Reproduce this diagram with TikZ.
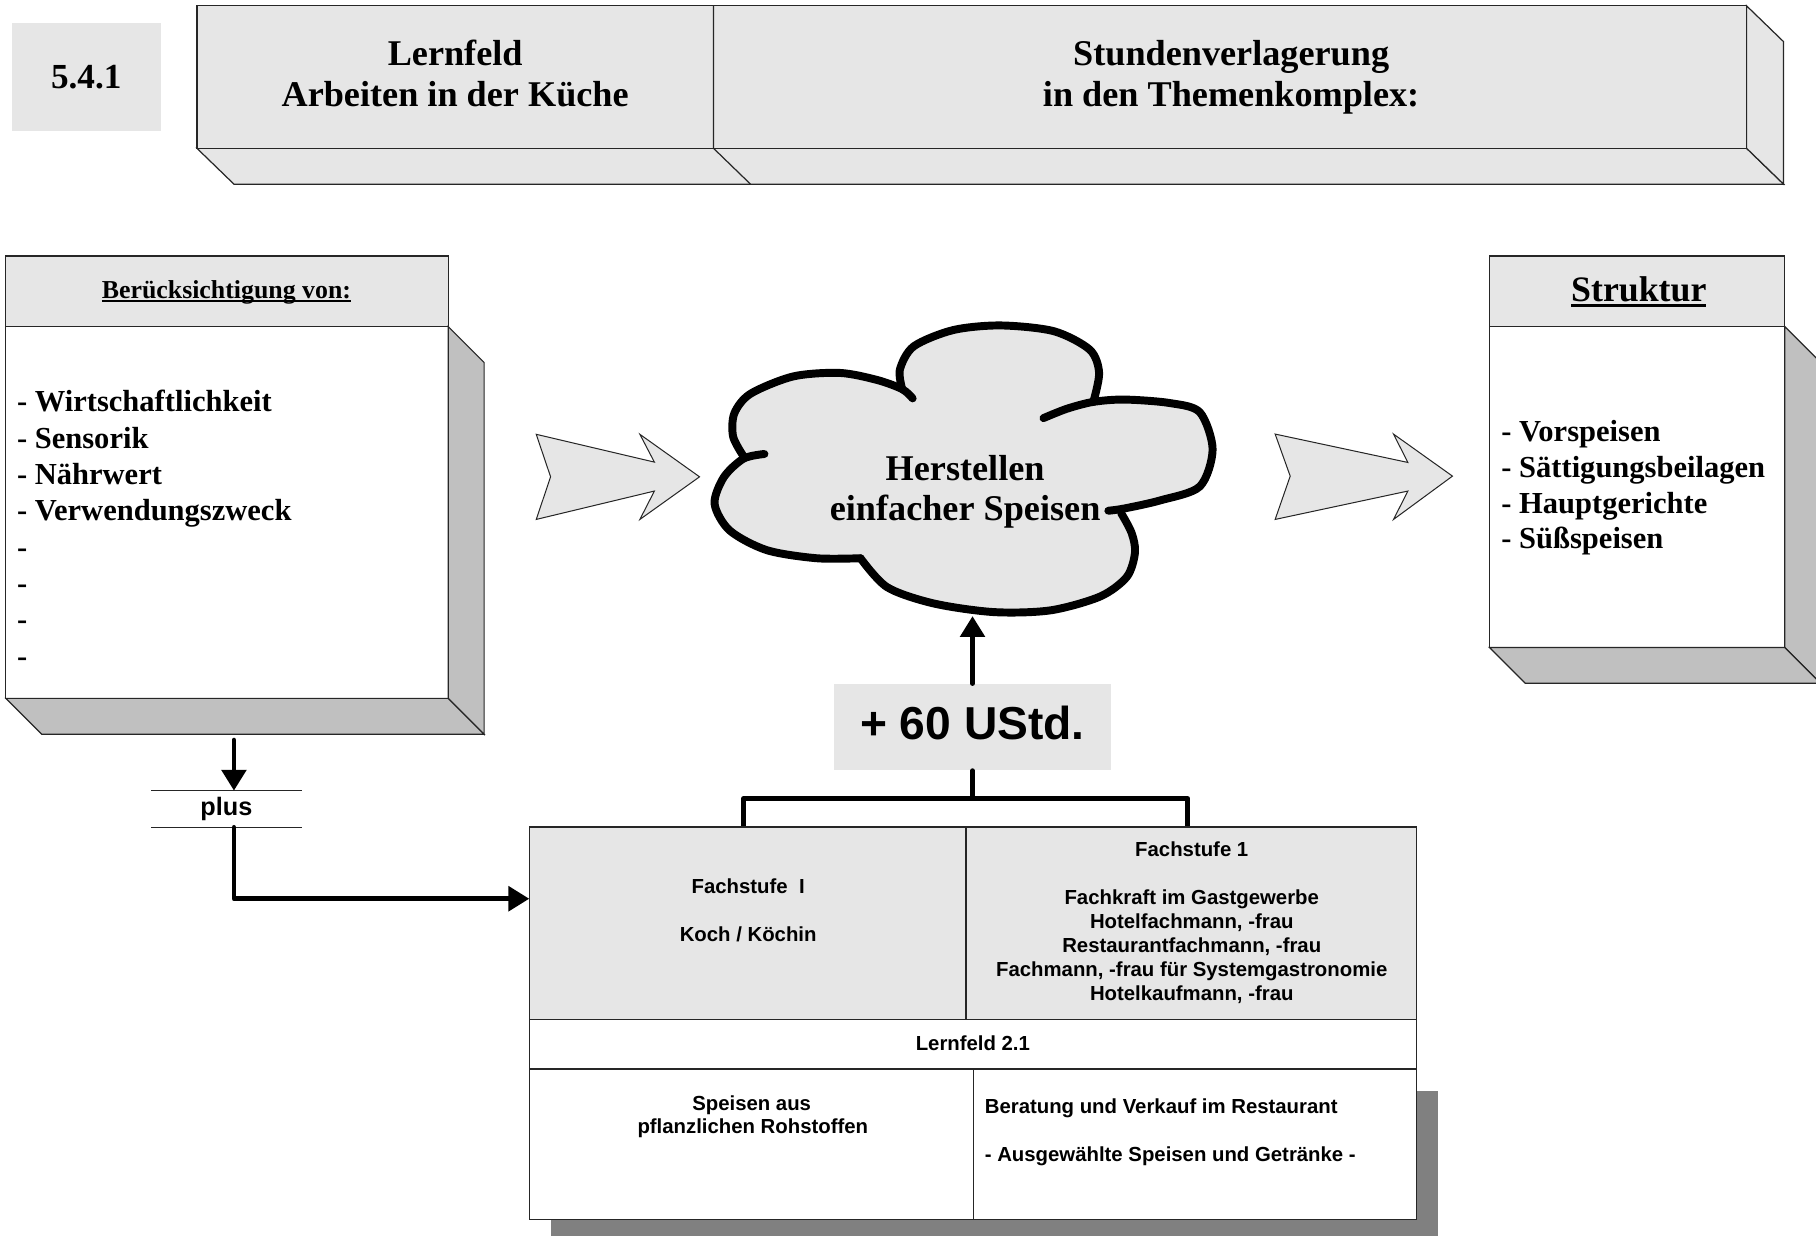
\documentclass[tikz,border=0pt]{standalone}
\usepackage{fontspec}
\setmainfont{Liberation Serif}
\setsansfont{Liberation Sans}
\usetikzlibrary{arrows.meta,positioning}

\definecolor{boxgray}{HTML}{E6E6E6}
\definecolor{sidegray}{HTML}{C0C0C0}
\definecolor{shadowgray}{HTML}{808080}

\newcommand{\unterstr}[1]{\sbox0{#1}\rlap{\rule[-0.14em]{\wd0}{0.07em}}\usebox0}

\tikzset{
  kante/.style={draw=black!85, line width=0.6pt},
  flach/.style={kante, fill=boxgray},
  seite/.style={kante, fill=sidegray},
  gross/.style={font=\bfseries\fontsize{17.8}{20}\selectfont, anchor=base},
  liste/.style={font=\bfseries\fontsize{15}{18}\selectfont, anchor=base west},
  zelle/.style={font=\sffamily\bfseries\fontsize{10}{12}\selectfont, anchor=base},
  verb/.style={line width=2.3pt, line cap=round, line join=round},
  pfeil/.style={-{Triangle[length=0.36cm,width=0.42cm]}},
  wolkenrand/.style={line width=3.9pt, line cap=round, line join=round},
  blockpfeil/.style={draw=black!85, line width=0.5pt, fill=boxgray}
}

\begin{document}
\begin{tikzpicture}[x=0.02cm, y=-0.02cm]
\tikzstyle{every node}+=[inner sep=0pt]
\useasboundingbox (0,0) rectangle (1568,1067);
\clip (0,0) rectangle (1568,1067);

% Kopfzeile
\node[fill=boxgray, minimum width=2.58cm, minimum height=1.86cm, font=\bfseries\fontsize{17.3}{20}\selectfont] (nr) at (74.5,66.2) {5.4.1};
\draw[flach] (170,128) -- (202,159) -- (1540,159) -- (1508,128) -- cycle;
\draw[flach] (1508,5) -- (1540,36) -- (1540,159) -- (1508,128) -- cycle;
\draw[flach] (170,5) rectangle (1508,128);
\draw[kante] (616,5) -- (616,128) -- (648,159);
\node[gross] (lf1) at (393,56.5) {Lernfeld};
\node[gross] (lf2) at (393,92) {Arbeiten in der Küche};
\node[gross] (sv1) at (1063,56.5) {Stundenverlagerung};
\node[gross] (sv2) at (1063,92) {in den Themenkomplex:};

% linker Kasten
\draw[flach] (5,221) rectangle (387,282);
\draw[kante, fill=white] (5,282) rectangle (387,603);
\draw[seite] (387,282) -- (418,313) -- (418,634) -- (387,603) -- cycle;
\draw[seite] (5,603) -- (36,634) -- (418,634) -- (387,603) -- cycle;
\node[gross, font=\bfseries\fontsize{12.7}{15}\selectfont] (ws-kopf) at (195.5,257.6) {\unterstr{Berücksichtigung von:}};
\node[liste] (ws1) at (14.4,355.5) {- Wirtschaftlichkeit};
\node[liste] (ws2) at (14.4,386.9) {- Sensorik};
\node[liste] (ws3) at (14.4,418.3) {- Nährwert};
\node[liste] (ws4) at (14.4,449.7) {- Verwendungszweck};
\node[liste] (ws5) at (14.4,481.1) {-};
\node[liste] (ws6) at (14.4,512.5) {-};
\node[liste] (ws7) at (14.4,543.9) {-};
\node[liste] (ws8) at (14.4,575.3) {-};
\coordinate (ws-unten) at (202,639);

% rechter Kasten
\draw[flach] (1286,221) rectangle (1541,282);
\draw[kante, fill=white] (1286,282) rectangle (1541,559);
\draw[seite] (1541,282) -- (1572,313) -- (1572,590) -- (1541,559) -- cycle;
\draw[seite] (1286,559) -- (1317,590) -- (1572,590) -- (1541,559) -- cycle;
\node[gross, font=\bfseries\fontsize{17.6}{20}\selectfont] (st-kopf) at (1415,260.5) {\unterstr{Struktur}};
\node[liste] (st1) at (1296,381.4) {- Vorspeisen};
\node[liste] (st2) at (1296,412.2) {- Sättigungsbeilagen};
\node[liste] (st3) at (1296,443) {- Hauptgerichte};
\node[liste] (st4) at (1296,473.8) {- Süßspeisen};

% Blockpfeile
\draw[blockpfeil] (463,375) -- (565,399) -- (552.5,375) -- (604,411.7) -- (552.5,448.5) -- (565,424) -- (463,448.5) -- (475.4,411.7) -- cycle;
\draw[blockpfeil] (1101,374.8) -- (1215.6,399.3) -- (1203.2,374.8) -- (1254.1,411.1) -- (1203.2,448.5) -- (1215.6,424) -- (1101,448.5) -- (1114,411.1) -- cycle;

% Wolke
\fill[boxgray] plot[smooth] coordinates {(642,394) (633,377) (634,357) (648,340) (685,325) (725,322) (757,328) (779,336)}
  -- plot[smooth] coordinates {(779,336) (777,319) (789,299) (823,285) (864,281) (910,286) (941,302) (949,322) (944,347)}
  -- plot[smooth] coordinates {(944,347) (971,345) (1010,348) (1036,356) (1047,388) (1036,420) (1002,432) (968,443)}
  -- plot[smooth] coordinates {(968,443) (977,460) (980,477) (973,498) (950,515) (907,527) (858,528.5) (806,521) (766,507) (743,482)}
  -- plot[smooth] coordinates {(743,482) (705,482) (662,475) (630,458) (617,435) (625,412) (642,394)} -- cycle;
\draw[wolkenrand] plot[smooth] coordinates {(642,394) (633,377) (634,357) (648,340) (685,325) (725,322) (757,328) (779,336) (788,344)};
\draw[wolkenrand] plot[smooth] coordinates {(779,336) (777,319) (789,299) (823,285) (864,281) (910,286) (941,302) (949,322) (944,347)};
\draw[wolkenrand] plot[smooth] coordinates {(901,361) (921,353) (944,347) (971,345) (1010,348) (1036,356) (1047,388) (1036,420) (1002,432) (971,439) (957,441)};
\draw[wolkenrand] plot[smooth] coordinates {(968,443) (977,460) (980,477) (973,498) (950,515) (907,527) (858,528.5) (806,521) (766,507) (743,482)};
\draw[wolkenrand] plot[smooth] coordinates {(743,482) (705,482) (662,475) (630,458) (617,435) (625,412) (642,396) (660,392)};
\node[gross] (hs1) at (833.3,414.5) {Herstellen};
\node[gross] (hs2) at (833.3,449.6) {einfacher Speisen};
\coordinate (wolke-unten) at (839.7,532);

% Stunden
\node[fill=boxgray, minimum width=4.78cm, minimum height=1.49cm, text depth=0.16cm, font=\sffamily\bfseries\fontsize{22.7}{26}\selectfont] (ustd) at (839.7,627.8) {+ 60 UStd.};
\draw[verb,pfeil] (ustd.north) -- (wolke-unten);
\coordinate (gabel) at (839.7,689.4);
\coordinate (koch-oben) at (642,714);
\coordinate (gast-oben) at (1025.6,714);
\draw[verb] (ustd.south) -- (gabel);
\draw[verb] (koch-oben) |- (gabel) -| (gast-oben);

% plus
\node[minimum width=2.58cm, minimum height=0.62cm, font=\sffamily\bfseries\fontsize{12.4}{14}\selectfont] (plus) at (195.5,698.5) {plus};
\draw[kante] (plus.north west) -- (plus.north east);
\draw[kante] (plus.south west) -- (plus.south east);
\coordinate (tab-ein) at (457,776);
\draw[verb,pfeil] (ws-unten) -- (ws-unten |- plus.north);
\draw[verb,pfeil] (ws-unten |- plus.south) |- (tab-ein);

% Tabelle
\fill[shadowgray] (476,942) rectangle (1242,1072);
\draw[flach] (457,714) rectangle (834,880);
\draw[flach] (834,714) rectangle (1223,880);
\draw[kante, fill=white] (457,880) rectangle (1223,923);
\draw[kante, fill=white] (457,923) rectangle (1223,1053);
\draw[kante] (840.7,923) -- (840.7,1053);
\node[zelle] (fs1-a) at (646,771.4) {Fachstufe\ \ I};
\node[zelle] (fs1-b) at (646,812.6) {Koch / Köchin};
\node[zelle] (fs2-a) at (1029,739.2) {Fachstufe 1};
\node[zelle] (fs2-b) at (1029,780.8) {Fachkraft im Gastgewerbe};
\node[zelle] (fs2-c) at (1029,801.6) {Hotelfachmann, -frau};
\node[zelle] (fs2-d) at (1029,822.4) {Restaurantfachmann, -frau};
\node[zelle] (fs2-e) at (1029,843.2) {Fachmann, -frau für Systemgastronomie};
\node[zelle] (fs2-f) at (1029,864) {Hotelkaufmann, -frau};
\node[zelle] (lf21) at (840,906.7) {Lernfeld 2.1};
\node[zelle] (sp1) at (649,958.5) {Speisen aus};
\node[zelle] (sp2) at (650,979) {pflanzlichen Rohstoffen};
\node[zelle, anchor=base west] (bv1) at (850,961.4) {Beratung und Verkauf im Restaurant};
\node[zelle, anchor=base west] (bv2) at (850,1003.2) {- Ausgewählte Speisen und Getränke -};
\end{tikzpicture}
\end{document}
